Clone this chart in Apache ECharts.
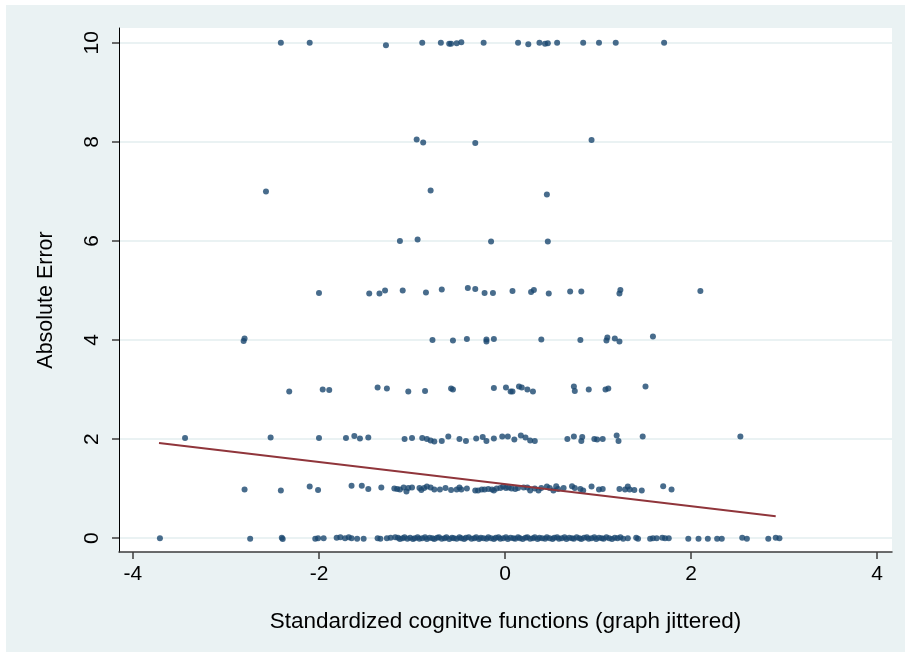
<!DOCTYPE html>
<html>
<head>
<meta charset="utf-8">
<script src="https://cdn.jsdelivr.net/npm/echarts@6/dist/echarts.min.js"></script>
<style>
  html, body { margin: 0; padding: 0; background: #ffffff; }
  #chart { position: absolute; left: 6px; top: 5px; width: 899px; height: 647px; }
</style>
</head>
<body>
<div id="chart"></div>
<script>
// absolute error levels, [cognitive score, jittered error]
var err10 = [[-2.41,10.0],[-2.10,10.0],[-1.28,9.95],[-0.89,10.0],[-0.69,10.0],[-0.60,9.98],[-0.58,9.98],[-0.52,9.99],[-0.47,10.01],[-0.23,10.0],[0.14,10.0],[0.25,9.97],[0.37,10.0],[0.43,9.98],[0.46,9.99],[0.56,10.0],[0.84,10.0],[1.01,10.0],[1.19,10.0],[1.71,10.0]];
var err8 = [[-0.95,8.05],[-0.88,7.99],[-0.32,7.98],[0.93,8.04]];
var err7 = [[-2.57,7.0],[-0.80,7.02],[0.45,6.94]];
var err6 = [[-1.13,6.0],[-0.94,6.03],[-0.15,5.99],[0.46,5.99]];
var err5 = [[-2.00,4.95],[-1.46,4.94],[-1.35,4.94],[-1.29,5.0],[-1.10,5.0],[-0.85,4.96],[-0.68,5.02],[-0.40,5.05],[-0.32,5.03],[-0.22,4.95],[-0.13,4.95],[0.08,4.99],[0.28,4.97],[0.31,5.01],[0.47,4.94],[0.70,4.98],[0.82,4.98],[1.23,4.94],[1.24,5.01],[2.10,4.99]];
var err4 = [[-2.81,3.98],[-2.80,4.03],[-0.78,4.0],[-0.56,3.99],[-0.41,4.02],[-0.20,4.01],[-0.20,3.97],[-0.12,4.02],[0.39,4.01],[0.81,4.0],[1.09,3.99],[1.10,4.05],[1.18,4.03],[1.23,3.97],[1.59,4.07]];
var err3 = [[-2.32,2.96],[-1.96,3.0],[-1.89,2.99],[-1.37,3.04],[-1.27,3.02],[-1.04,2.96],[-0.86,2.97],[-0.58,3.02],[-0.56,3.0],[-0.12,3.03],[0.01,3.04],[0.06,2.96],[0.08,2.96],[0.15,3.06],[0.18,3.04],[0.24,3.0],[0.30,2.96],[0.74,3.06],[0.75,2.97],[0.90,3.0],[1.08,3.0],[1.11,3.02],[1.51,3.06]];
var err2 = [[-3.44,2.02],[-2.52,2.03],[-2.00,2.02],[-1.71,2.02],[-1.62,2.06],[-1.56,2.01],[-1.47,2.03],[-1.08,2.0],[-1.00,2.02],[-0.89,2.02],[-0.84,2.0],[-0.80,1.97],[-0.76,1.95],[-0.68,1.96],[-0.61,2.05],[-0.49,2.0],[-0.42,1.96],[-0.31,2.01],[-0.24,2.04],[-0.20,1.96],[-0.12,2.01],[-0.03,2.05],[0.03,2.05],[0.10,1.99],[0.17,2.07],[0.22,2.03],[0.27,1.97],[0.32,1.96],[0.67,2.0],[0.74,2.05],[0.82,1.96],[0.83,2.04],[0.96,2.0],[0.99,1.99],[1.05,2.0],[1.20,2.07],[1.22,1.96],[1.48,2.05],[2.53,2.05]];
var err1 = [[-2.80,0.98],[-2.41,0.96],[-2.10,1.04],[-2.01,0.97],[-1.65,1.06],[-1.54,1.06],[-1.47,0.99],[-1.33,1.02],[-1.19,1.0],[-1.16,0.99],[-1.13,0.98],[-1.09,1.02],[-1.06,0.94],[-1.04,1.01],[-1.00,1.02],[-0.92,1.01],[-0.90,0.97],[-0.87,1.01],[-0.84,1.04],[-0.80,1.02],[-0.76,0.98],[-0.70,0.98],[-0.64,1.01],[-0.58,0.97],[-0.52,0.98],[-0.49,1.02],[-0.47,0.98],[-0.41,1.0],
  [-0.32,0.96],[-0.29,0.96],[-0.25,0.98],[-0.22,0.98],[-0.18,0.99],[-0.14,0.98],[-0.12,0.96],[-0.09,1.0],[-0.05,1.01],[-0.02,1.04],[0.01,1.01],[0.04,1.02],[0.07,1.0],[0.11,0.99],[0.14,1.01],[0.20,1.02],[0.24,1.02],[0.27,0.96],[0.32,1.0],[0.36,0.96],[0.39,1.01],[0.45,1.04],[0.48,1.01],[0.52,0.96],[0.55,1.05],[0.57,0.99],[0.63,1.01],[0.72,1.05],[0.75,1.01],[0.81,0.99],[0.84,0.96],[0.93,1.04],[1.01,0.98],[1.05,0.99],[1.23,0.99],[1.29,0.98],[1.32,1.04],[1.34,0.98],[1.39,0.97],[1.47,0.96],[1.70,1.05],[1.79,0.98]];
var err0 = [[-3.71,0.0],[-2.74,-0.01],[-2.40,0.01],[-2.39,-0.02],[-2.04,-0.01],[-2.01,0.0],[-1.95,0.0],[-1.81,0.01],[-1.77,0.02],[-1.72,0.0],[-1.68,0.02],[-1.65,0.0],[-1.59,-0.01],[-1.52,-0.01],[-1.37,0.0],[-1.34,-0.01],[-1.27,0.0],[-1.23,0.01],[-1.18,0.02],
  [-1.15,0.01],[-1.13,-0.02],[-1.10,0.0],[-1.08,0.02],[-1.05,-0.01],[-1.02,0.01],[-0.99,-0.02],[-0.97,0.0],[-0.94,0.02],[-0.92,-0.01],[-0.89,0.0],[-0.86,0.02],[-0.84,-0.02],[-0.81,0.01],[-0.78,0.0],[-0.76,-0.02],[-0.73,0.01],[-0.71,0.02],[-0.68,-0.01],[-0.65,0.0],[-0.63,0.02],[-0.60,-0.02],[-0.57,0.01],[-0.55,0.0],[-0.52,-0.01],[-0.49,0.02],[-0.47,0.0],[-0.44,-0.02],[-0.42,0.01],[-0.39,0.02],[-0.36,-0.01],[-0.33,0.0],[-0.31,0.02],[-0.28,-0.02],[-0.26,0.01],[-0.23,0.0],[-0.20,-0.01],[-0.18,0.02],[-0.15,0.0],[-0.12,-0.02],[-0.10,0.01],[-0.07,0.02],[-0.05,-0.01],[-0.02,0.0],[0.01,0.02],[0.03,-0.02],[0.06,0.01],[0.09,0.0],[0.11,-0.01],[0.14,0.02],[0.16,0.0],[0.19,-0.02],[0.22,0.01],[0.24,0.02],[0.27,-0.01],[0.30,0.0],[0.32,0.02],[0.35,-0.02],[0.37,0.01],[0.40,0.0],[0.43,-0.01],[0.45,0.02],[0.48,0.0],[0.51,-0.02],[0.53,0.01],[0.56,0.02],[0.58,-0.01],[0.61,0.0],[0.64,0.02],[0.66,-0.02],[0.69,0.01],[0.72,0.0],[0.74,-0.01],[0.77,0.02],[0.80,0.0],[0.82,-0.02],[0.85,0.01],[0.88,0.02],[0.90,-0.01],[0.93,0.0],[0.96,0.02],[0.98,-0.02],[1.01,0.01],[1.04,0.0],[1.06,-0.01],[1.09,0.02],[1.12,0.0],[1.15,-0.02],[1.18,0.01],[1.21,0.0],[1.24,0.02],[1.27,-0.01],
  [1.32,0.0],[1.41,0.01],[1.43,-0.01],[1.56,-0.01],[1.59,0.0],[1.63,0.0],[1.69,0.01],[1.72,0.0],[1.76,0.0],[1.97,-0.01],[2.08,-0.01],[2.18,-0.01],[2.28,-0.01],[2.33,-0.01],[2.55,0.01],[2.60,-0.01],[2.83,-0.01],[2.91,0.01],[2.95,0.0]];

// fitted line
var fitX = [-3.72, 2.91];
var fitY = [1.92, 0.44];

var xTicks = [-4, -2, 0, 2, 4];
var yTicks = [0, 2, 4, 6, 8, 10];

var points = [].concat(err0, err1, err2, err3, err4, err5, err6, err7, err8, err10);
var fitLine = fitX.map(function (x, i) { return [x, fitY[i]]; });

var chart = echarts.init(document.getElementById("chart"));
var option = {
  backgroundColor: "#eaf2f3",
  animation: false,
  textStyle: { fontFamily: "Liberation Sans, Arial, sans-serif" },
  grid: {
    left: 113, right: 13, top: 23, bottom: 100,
    show: true, backgroundColor: "#ffffff", borderWidth: 0
  },
  xAxis: {
    type: "value",
    min: -4.15, max: 4.16,
    name: "Standardized cognitve functions (graph jittered)",
    nameLocation: "middle",
    nameGap: 58,
    nameTextStyle: { fontSize: 22.5, color: "#000" },
    axisLine: { onZero: false, lineStyle: { color: "#3c3c3c", width: 1.5 } },
    axisTick: { customValues: xTicks, length: 7, lineStyle: { color: "#3c3c3c", width: 1.5 } },
    axisLabel: { customValues: xTicks, fontSize: 21, color: "#000", margin: 12 },
    splitLine: { show: false }
  },
  yAxis: {
    type: "value",
    min: -0.28, max: 10.3,
    name: "Absolute Error",
    nameLocation: "middle",
    nameGap: 62,
    nameRotate: 90,
    nameTextStyle: { fontSize: 21.5, color: "#000", padding: [0, 20, 0, 0] },
    axisLine: { onZero: false, lineStyle: { color: "#000", width: 1 } },
    axisTick: { customValues: yTicks, length: 7, lineStyle: { color: "#3c3c3c", width: 1.5 } },
    axisLabel: { customValues: yTicks, fontSize: 21, color: "#000", rotate: 90, margin: 16 },
    splitLine: { show: true, lineStyle: { color: "#eaf2f3", width: 2 } }
  },
  series: [
    {
      type: "scatter",
      data: points,
      symbol: "circle",
      symbolSize: 6,
      itemStyle: { color: "#1a476f" }
    },
    {
      type: "line",
      data: fitLine,
      showSymbol: false,
      lineStyle: { color: "#90353b", width: 2 },
      z: 3
    }
  ]
};
chart.setOption(option);
</script>
</body>
</html>
